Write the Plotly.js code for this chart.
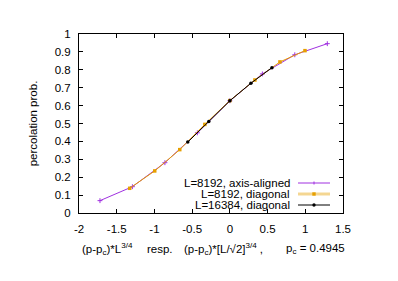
<!DOCTYPE html>
<html>
<head>
<meta charset="utf-8">
<script src="https://cdn.plot.ly/plotly-3.0.1.min.js"></script>
<style>html,body{margin:0;padding:0;background:#fff;}#chart{width:398px;height:281px;}</style>
</head>
<body>
<div id="chart"></div>
<script>
// L=8192, axis-aligned
const xAxis = [-1.722, -1.292, -0.861, -0.431, 0.0, 0.431, 0.861, 1.292];
const yAxis = [0.069, 0.147, 0.281, 0.448, 0.627, 0.777, 0.884, 0.946];
// L=8192, diagonal
const xDiag = [-1.328, -0.996, -0.664, -0.332, 0.0, 0.332, 0.664, 0.996];
const yDiag = [0.138, 0.235, 0.354, 0.495, 0.628, 0.743, 0.844, 0.907];
// L=16384, diagonal
const xDiag2 = [-0.558, -0.279, 0.0, 0.279, 0.558];
const yDiag2 = [0.396, 0.511, 0.627, 0.725, 0.812];

const legendNames = ["L=8192, axis-aligned", "L=8192, diagonal", "L=16384, diagonal"];
const xTicks = [-2, -1.5, -1, -0.5, 0, 0.5, 1, 1.5];
const yTicks = [0, 0.1, 0.2, 0.3, 0.4, 0.5, 0.6, 0.7, 0.8, 0.9, 1];

const purple = "#a030e0", orange = "#e69f00", black = "#000000";
const FONT = "Liberation Sans, Arial, sans-serif";
const FS = 11.5;

const traces = [
  {x: xAxis, y: yAxis, name: legendNames[0], mode: "lines+markers", type: "scatter",
   line: {color: purple, width: 1}, marker: {symbol: "cross-thin", size: 3.5, color: purple, line: {color: purple, width: 1}}},
  {x: xDiag, y: yDiag, name: legendNames[1], mode: "lines+markers", type: "scatter",
   line: {color: orange, width: 1}, marker: {symbol: "square", size: 3.5, color: orange}},
  {x: xDiag2, y: yDiag2, name: legendNames[2], mode: "lines+markers", type: "scatter",
   line: {color: black, width: 1}, marker: {symbol: "circle", size: 3.5, color: black}}
];

// plot area in px: left 79, right 343, top 34, bottom 213
const L = 79, R = 343, T = 34, B = 213;
const px = v => (v - L) / (R - L);
const py = v => (B - v) / (B - T);

const annotations = [];
const shapes = [];
const legendRowsY = [183, 194, 205];
const legendColors = [purple, orange, black];
legendNames.forEach((n, i) => {
  annotations.push({xref: "paper", yref: "paper", x: px(292), y: py(legendRowsY[i]), xanchor: "right", yanchor: "middle",
    text: n, showarrow: false, font: {family: FONT, size: FS, color: "#000"}});
  const w = i === 1 ? 3 : 1;
  const c = i === 1 ? "rgba(240,200,110,0.75)" : legendColors[i];
  shapes.push({type: "line", xref: "paper", yref: "paper", x0: px(298), x1: px(330), y0: py(legendRowsY[i]), y1: py(legendRowsY[i]), line: {color: c, width: w}});
});
// legend markers
const mx = 314;
shapes.push({type: "line", xref: "paper", yref: "paper", x0: px(mx), x1: px(mx), y0: py(legendRowsY[0] - 1.5), y1: py(legendRowsY[0] + 1.5), line: {color: purple, width: 1}});
shapes.push({type: "rect", xref: "paper", yref: "paper", x0: px(mx - 1.7), x1: px(mx + 1.7), y0: py(legendRowsY[1] - 1.7), y1: py(legendRowsY[1] + 1.7), fillcolor: orange, line: {width: 0}});
shapes.push({type: "circle", xref: "paper", yref: "paper", x0: px(mx - 1.7), x1: px(mx + 1.7), y0: py(legendRowsY[2] - 1.7), y1: py(legendRowsY[2] + 1.7), fillcolor: black, line: {width: 0}});

// x-axis title pieces
const ty = py(249);
const tf = {family: FONT, size: FS, color: "#000"};
annotations.push({xref: "paper", yref: "paper", x: px(80), y: ty, xanchor: "left", yanchor: "middle", showarrow: false, font: tf,
  text: "(p-p<sub>c</sub>)*L<sup>3/4</sup>"});
annotations.push({xref: "paper", yref: "paper", x: px(145), y: ty, xanchor: "left", yanchor: "middle", showarrow: false, font: tf,
  text: "resp."});
annotations.push({xref: "paper", yref: "paper", x: px(182), y: ty, xanchor: "left", yanchor: "middle", showarrow: false, font: tf,
  text: "(p-p<sub>c</sub>)*[L/√2]<sup>3/4</sup> ,"});
annotations.push({xref: "paper", yref: "paper", x: px(284), y: ty, xanchor: "left", yanchor: "middle", showarrow: false, font: tf,
  text: "p<sub>c</sub> = 0.4945"});

const axisCommon = {
  showgrid: false, zeroline: false, showline: true, linecolor: "#000", linewidth: 1,
  mirror: "allticks", ticks: "inside", ticklen: 4, tickcolor: "#000", tickwidth: 1,
  tickfont: {family: FONT, size: FS, color: "#000"}
};

const layout = {
  width: 398, height: 281,
  margin: {l: L, r: 398 - R, t: T, b: 281 - B},
  paper_bgcolor: "#fff", plot_bgcolor: "#fff",
  showlegend: false,
  xaxis: Object.assign({}, axisCommon, {range: [-2, 1.5], tickvals: xTicks, ticktext: xTicks.map(String), ticklabelstandoff: 5}),
  yaxis: Object.assign({}, axisCommon, {range: [0, 1], tickvals: yTicks, ticktext: yTicks.map(String), ticklabelstandoff: 5,
    title: {text: "percolation prob.", font: {family: FONT, size: FS, color: "#000"}, standoff: 14}}),
  annotations: annotations,
  shapes: shapes
};

Plotly.newPlot("chart", traces, layout, {displayModeBar: false, staticPlot: true});
</script>
</body>
</html>
